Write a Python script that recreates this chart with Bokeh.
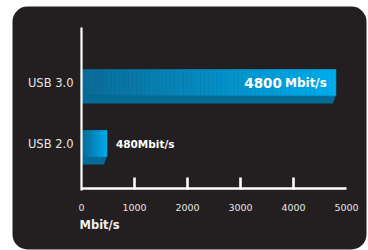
import numpy as np
from bokeh.plotting import figure
from bokeh.models import Range1d, BoxAnnotation
from bokeh.embed import file_html
from bokeh.resources import INLINE
from bokeh.core.properties import value

# ---- data ----
categories = ["USB 2.0", "USB 3.0"]
speeds = [480, 4800]
bar_numbers = ["480", "4800"]
unit = "Mbit/s"
tick_values = [0, 1000, 2000, 3000, 4000, 5000]
tick_labels = ["0", "1000", "2000", "3000", "4000", "5000"]
axis_title = "Mbit/s"

# ---- layout (pixel geometry of the canvas) ----
W, H = 368, 250
PXU = 0.053          # px per Mbit/s
X0_PX = 81           # canvas x of value 0
ROW_PX = 61          # px between category rows
ROW0_PX = 143        # canvas y of first category row

x_start = -X0_PX / PXU
x_end = x_start + W / PXU
y_start = (ROW0_PX - H) / ROW_PX
y_end = ROW0_PX / ROW_PX

def dx(px):
    return px / PXU

def dy(px):
    return px / ROW_PX

def X(px):
    return x_start + px / PXU

def Y(py):
    return (ROW0_PX - py) / ROW_PX

FONT = value("DejaVu Sans")

p = figure(width=W, height=H, x_range=Range1d(x_start, x_end),
           y_range=Range1d(y_start, y_end), output_backend="svg",
           toolbar_location=None, min_border=0, x_axis_location=None,
           y_axis_location=None, background_fill_color="white",
           border_fill_color="white", outline_line_color=None)
p.grid.visible = False

# dark rounded panel
panel = BoxAnnotation(left=X(12), right=X(366), top=Y(6), bottom=Y(249),
                      fill_color="#231f20", fill_alpha=1.0, line_color=None,
                      border_radius=15, level="underlay")
p.add_layout(panel)

def lerp_colors(c1, c2, n):
    a = np.array([int(c1[i:i + 2], 16) for i in (1, 3, 5)], dtype=float)
    b = np.array([int(c2[i:i + 2], 16) for i in (1, 3, 5)], dtype=float)
    out = []
    for t in np.linspace(0, 1, n):
        c = a + (b - a) * t
        out.append("#%02x%02x%02x" % tuple(int(round(v)) for v in c))
    return out

BAR_H = dy(26)
BEVEL = dy(8)
N = 60
for i, (cat, v) in enumerate(zip(categories, speeds)):
    yc = i
    top = yc + BAR_H / 2
    bot = yc - BAR_H / 2
    edges = np.linspace(0, v, N + 1)
    cols = lerp_colors("#0b6b97", "#00acec", N)
    # bevel below the bar
    p.patch(x=[0, v, v - dx(3), 0], y=[bot, bot, bot - BEVEL, bot - BEVEL],
            fill_color="#026b97", line_color=None)
    p.quad(left=edges[:-1], right=edges[1:], top=top, bottom=bot,
           fill_color=cols, line_color=cols, line_width=0.6)
    if v > 2000:
        p.text(x=[v - dx(9)], y=[yc], text=[unit], text_align="right",
               text_baseline="middle", text_font=FONT, text_font_style="bold",
               text_font_size="12px", text_color="white")
        p.text(x=[v - dx(54)], y=[yc], text=[bar_numbers[i]], text_align="right",
               text_baseline="middle", text_font=FONT, text_font_style="bold",
               text_font_size="13.5px", text_color="white")
    else:
        p.text(x=[v + dx(9)], y=[yc], text=[bar_numbers[i] + unit],
               text_align="left", text_baseline="middle", text_font=FONT,
               text_font_style="bold", text_font_size="10.5px",
               text_color="white")

# category labels
p.text(x=[-dx(8)] * len(categories), y=list(range(len(categories))),
       text=categories, text_align="right", text_baseline="middle",
       text_font=FONT, text_font_size="11.5px", text_color="#e6e6e6")

# axes
p.segment(x0=[0], y0=[Y(27)], x1=[0], y1=[Y(190)], line_color="white",
          line_width=2.2)
p.segment(x0=[0], y0=[Y(188)], x1=[tick_values[-1]], y1=[Y(188)],
          line_color="white", line_width=2.6)
inner = tick_values[1:-1]
p.segment(x0=inner, y0=[Y(177)] * len(inner), x1=inner, y1=[Y(189)] * len(inner),
          line_color="white", line_width=2.6)
p.text(x=tick_values, y=[Y(207)] * len(tick_values), text=tick_labels,
       text_align="center", text_baseline="middle", text_font=FONT,
       text_font_size="9.5px", text_color="#e6e6e6")
p.text(x=[-dx(2)], y=[Y(224)], text=[axis_title], text_align="left",
       text_baseline="middle", text_font=FONT, text_font_style="bold",
       text_font_size="11.5px", text_color="#f0f0f0")

open("out.html", "w").write(file_html(p, INLINE))
